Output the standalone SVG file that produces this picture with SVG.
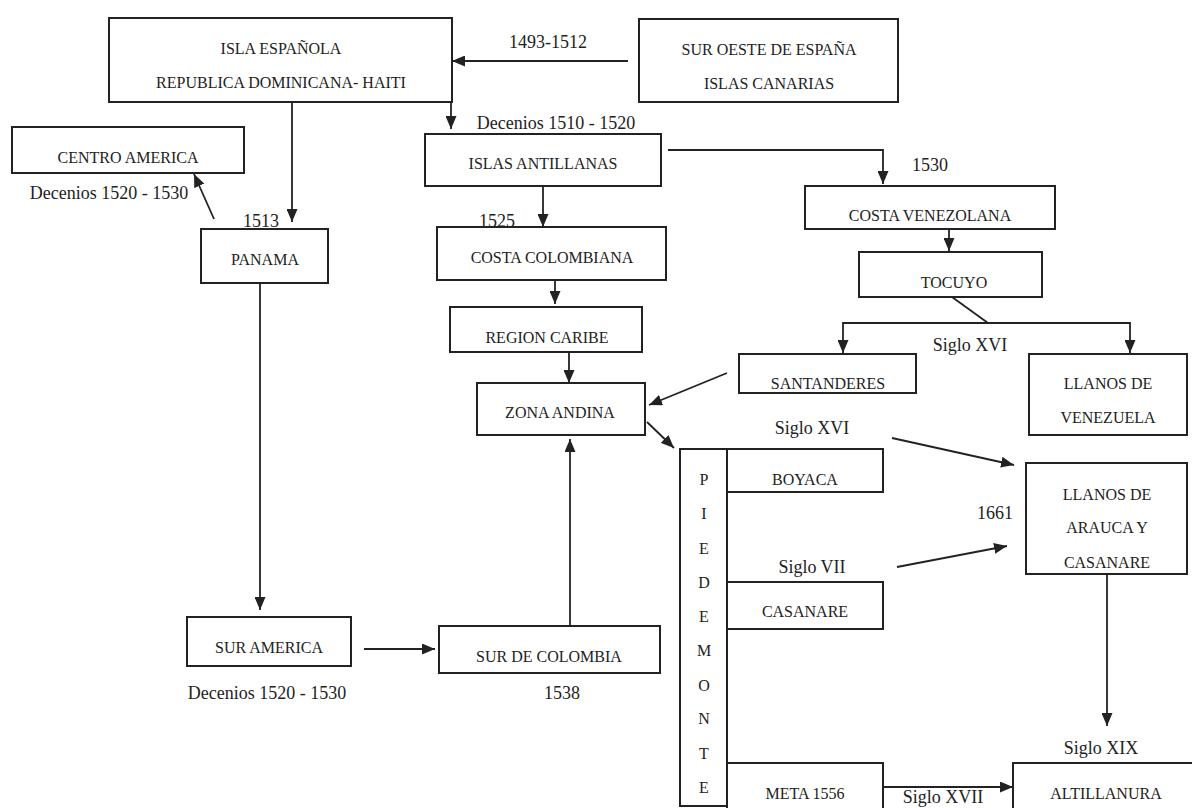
<svg xmlns="http://www.w3.org/2000/svg" width="1192" height="808" viewBox="0 0 1192 808">
<style>
.bg{fill:#fff}
rect.b{fill:#fff;stroke:#222;stroke-width:2}
.t{font-family:"Liberation Serif","Times New Roman",serif;font-size:16px;fill:#222;text-anchor:middle}
.l{font-family:"Liberation Serif","Times New Roman",serif;font-size:18px;fill:#222;text-anchor:middle}
.c line,.c polyline{stroke:#222;stroke-width:1.8;fill:none;marker-end:url(#a)}
.c .n{marker-end:none}
</style>
<defs>
<marker id="a" viewBox="0 0 13 11" refX="13" refY="5.5" markerWidth="13" markerHeight="11" markerUnits="userSpaceOnUse" orient="auto"><path d="M0,0L13,5.5L0,11z" fill="#222"/></marker>
</defs>
<rect class="bg" x="0" y="0" width="1192" height="808"/>
<g class="c" id="connectors">
<line x1="628" y1="61" x2="452" y2="61"/>
<line x1="451" y1="102" x2="451" y2="129"/>
<line x1="292" y1="103" x2="292" y2="222"/>
<line x1="214" y1="219" x2="194" y2="174"/>
<polyline points="668,150 883,150 883,184"/>
<line x1="543" y1="186" x2="543" y2="227"/>
<line x1="555" y1="267" x2="555" y2="304"/>
<line x1="569" y1="345" x2="569" y2="383"/>
<line x1="949" y1="227" x2="949" y2="251"/>
<line class="n" x1="952" y1="297" x2="988" y2="323"/>
<line class="n" x1="843" y1="323" x2="1130" y2="323"/>
<line x1="843" y1="322" x2="843" y2="353"/>
<line x1="1130" y1="322" x2="1130" y2="353"/>
<line x1="727" y1="373" x2="649" y2="405"/>
<line x1="647" y1="422" x2="674" y2="448"/>
<line x1="260" y1="283" x2="260" y2="610"/>
<line x1="364" y1="649" x2="435" y2="649"/>
<line x1="570" y1="626" x2="570" y2="439"/>
<line x1="892" y1="438" x2="1014" y2="465"/>
<line x1="897" y1="567" x2="1007" y2="546"/>
<line x1="1107" y1="574" x2="1107" y2="726"/>
<line x1="883" y1="787" x2="1013" y2="787"/>
</g>
<g id="isla"><rect class="b" x="109" y="18" width="343" height="84"/><text class="t" x="281" y="54">ISLA ESPAÑOLA</text><text class="t" x="281" y="88">REPUBLICA DOMINICANA- HAITI</text></g>
<g id="suroeste"><rect class="b" x="639" y="19" width="259" height="83"/><text class="t" x="769" y="55">SUR OESTE DE ESPAÑA</text><text class="t" x="769" y="89">ISLAS CANARIAS</text></g>
<g id="centro"><rect class="b" x="12" y="127" width="232" height="46"/><text class="t" x="128" y="163">CENTRO AMERICA</text></g>
<g id="antillanas"><rect class="b" x="425" y="134" width="236" height="52"/><text class="t" x="543" y="169">ISLAS ANTILLANAS</text></g>
<g id="panama"><rect class="b" x="201" y="229" width="127" height="54"/><text class="t" x="265" y="265">PANAMA</text></g>
<g id="costacol"><rect class="b" x="437" y="227" width="229" height="53"/><text class="t" x="552" y="263">COSTA COLOMBIANA</text></g>
<g id="costaven"><rect class="b" x="805" y="186" width="250" height="43"/><text class="t" x="930" y="221">COSTA VENEZOLANA</text></g>
<g id="tocuyo"><rect class="b" x="859" y="252" width="183" height="45"/><text class="t" x="954" y="288">TOCUYO</text></g>
<g id="caribe"><rect class="b" x="450" y="307" width="192" height="45"/><text class="t" x="547" y="343">REGION CARIBE</text></g>
<g id="santanderes"><rect class="b" x="739" y="354" width="177" height="39"/><text class="t" x="828" y="389">SANTANDERES</text></g>
<g id="llanosven"><rect class="b" x="1029" y="354" width="158" height="81"/><text class="t" x="1108" y="389">LLANOS DE</text><text class="t" x="1108" y="423">VENEZUELA</text></g>
<g id="zona"><rect class="b" x="477" y="383" width="168" height="52"/><text class="t" x="560" y="418">ZONA ANDINA</text></g>
<g id="piedemonte"><rect class="b" x="680" y="449" width="47" height="357"/>
<text class="t" x="704" y="485">P</text><text class="t" x="704" y="519">I</text><text class="t" x="704" y="554">E</text><text class="t" x="704" y="588">D</text><text class="t" x="704" y="622">E</text><text class="t" x="704" y="656">M</text><text class="t" x="704" y="691">O</text><text class="t" x="704" y="724">N</text><text class="t" x="704" y="759">T</text><text class="t" x="704" y="793">E</text></g>
<g id="boyaca"><rect class="b" x="727" y="449" width="156" height="43"/><text class="t" x="805" y="485">BOYACA</text></g>
<g id="llanosara"><rect class="b" x="1026" y="463" width="161" height="111"/><text class="t" x="1107" y="500">LLANOS DE</text><text class="t" x="1107" y="533">ARAUCA Y</text><text class="t" x="1107" y="568">CASANARE</text></g>
<g id="casanare"><rect class="b" x="727" y="582" width="156" height="47"/><text class="t" x="805" y="617">CASANARE</text></g>
<g id="suramerica"><rect class="b" x="187" y="617" width="164" height="49"/><text class="t" x="269" y="653">SUR AMERICA</text></g>
<g id="surcol"><rect class="b" x="439" y="626" width="221" height="47"/><text class="t" x="549" y="662">SUR DE COLOMBIA</text></g>
<g id="meta"><rect class="b" x="727" y="763" width="156" height="60"/><text class="t" x="805" y="799">META 1556</text></g>
<g id="altillanura"><rect class="b" x="1013" y="763" width="200" height="60"/><text class="t" x="1106" y="799">ALTILLANURA</text></g>
<g id="labels">
<text class="l" x="548" y="48">1493-1512</text>
<text class="l" x="556" y="129">Decenios 1510 - 1520</text>
<text class="l" x="109" y="199">Decenios 1520 - 1530</text>
<text class="l" x="261" y="227">1513</text>
<text class="l" x="497" y="227">1525</text>
<text class="l" x="930" y="171">1530</text>
<text class="l" x="970" y="351">Siglo XVI</text>
<text class="l" x="812" y="434">Siglo XVI</text>
<text class="l" x="995" y="519">1661</text>
<text class="l" x="812" y="573">Siglo VII</text>
<text class="l" x="267" y="699">Decenios 1520 - 1530</text>
<text class="l" x="562" y="699">1538</text>
<text class="l" x="1101" y="754">Siglo XIX</text>
<text class="l" x="943" y="803">Siglo XVII</text>
</g>
</svg>
